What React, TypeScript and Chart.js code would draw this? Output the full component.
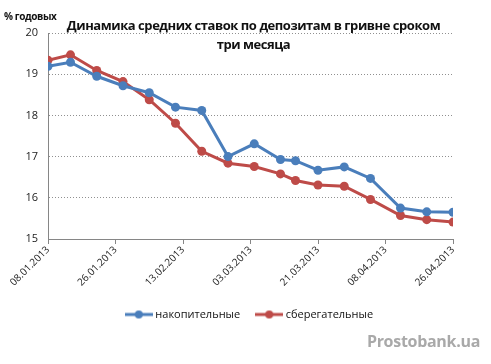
import React, { useEffect, useRef } from "react";
import { Chart, registerables } from "chart.js";

Chart.register(...registerables);

const dates = [
  "08.01.2013", "14.01.2013", "21.01.2013", "28.01.2013", "04.02.2013", "11.02.2013",
  "18.02.2013", "25.02.2013", "04.03.2013", "11.03.2013", "15.03.2013", "21.03.2013",
  "28.03.2013", "04.04.2013", "12.04.2013", "19.04.2013", "26.04.2013",
];
const nakopitelnye = [19.19, 19.29, 18.95, 18.72, 18.55, 18.2, 18.12, 17.0, 17.31, 16.93, 16.9, 16.67, 16.75, 16.47, 15.75, 15.66, 15.65];
const sberegatelnye = [19.34, 19.47, 19.09, 18.82, 18.38, 17.81, 17.13, 16.84, 16.76, 16.58, 16.42, 16.31, 16.28, 15.96, 15.57, 15.47, 15.41];
const tickLabels = ["08.01.2013", "26.01.2013", "13.02.2013", "03.03.2013", "21.03.2013", "08.04.2013", "26.04.2013"];
const seriesNames = ["накопительные", "сберегательные"];
const yTicks = [15, 16, 17, 18, 19, 20];

const BLUE = "#4a7ebb";
const RED = "#be4b48";

function toDay(s: string) {
  const [d, m, y] = s.split(".").map(Number);
  return Date.UTC(y, m - 1, d) / 86400000;
}
const base = toDay(dates[0]);
const off = (s: string) => toDay(s) - base;

function makeIcon(color: string) {
  const c = document.createElement("canvas");
  c.width = 28;
  c.height = 10;
  const ctx = c.getContext("2d")!;
  ctx.strokeStyle = color;
  ctx.lineWidth = 3;
  ctx.beginPath();
  ctx.moveTo(0, 5);
  ctx.lineTo(28, 5);
  ctx.stroke();
  ctx.fillStyle = color;
  ctx.beginPath();
  ctx.arc(14, 5, 4, 0, Math.PI * 2);
  ctx.fill();
  return c;
}

export default function App() {
  const ref = useRef<HTMLCanvasElement>(null);
  useEffect(() => {
    const icons = [makeIcon(BLUE), makeIcon(RED)];
    const font = "'Open Sans', sans-serif";
    const chart = new Chart(ref.current!, {
      type: "line",
      data: {
        datasets: [
          {
            label: seriesNames[0],
            data: dates.map((d, i) => ({ x: off(d), y: nakopitelnye[i] })),
            borderColor: BLUE,
            backgroundColor: BLUE,
            borderWidth: 3,
            pointRadius: 4.5,
            pointBorderWidth: 0,
            pointBackgroundColor: BLUE,
          },
          {
            label: seriesNames[1],
            data: dates.map((d, i) => ({ x: off(d), y: sberegatelnye[i] })),
            borderColor: RED,
            backgroundColor: RED,
            borderWidth: 3,
            pointRadius: 4.5,
            pointBorderWidth: 0,
            pointBackgroundColor: RED,
          },
        ],
      },
      options: {
        animation: false,
        responsive: false,
        layout: { padding: { left: 10, right: 0, top: 33, bottom: 34 } },
        scales: {
          x: {
            type: "linear",
            min: 0,
            max: off(tickLabels[tickLabels.length - 1]),
            afterBuildTicks: (scale: any) => {
              scale.ticks = tickLabels.map((t) => ({ value: off(t) }));
            },
            afterFit: (scale: any) => {
              scale.height = 52;
            },
            ticks: {
              autoSkip: false,
              maxRotation: 45,
              minRotation: 45,
              padding: 0,
              color: "#222",
              font: { family: font, size: 10 },
              callback: (_v: any, i: number) => tickLabels[i],
            },
            grid: {
              drawOnChartArea: false,
              drawTicks: true,
              tickLength: 5,
              color: "#868686",
            },
            border: { color: "#868686", width: 1 },
          },
          y: {
            min: 15,
            max: 20,
            afterBuildTicks: (scale: any) => {
              scale.ticks = yTicks.map((v) => ({ value: v }));
            },
            afterFit: (scale: any) => {
              scale.width = 38;
            },
            ticks: {
              padding: 10,
              color: "#222",
              font: { family: font, size: 11 },
            },
            grid: {
              drawTicks: false,
              color: "#909090",
              lineWidth: 1,
            },
            border: { color: "#868686", width: 1, dash: [1, 2] },
          },
          yRight: {
            position: "right",
            display: true,
            min: 15,
            max: 20,
            afterFit: (scale: any) => {
              scale.width = 38;
            },
            ticks: { display: false },
            grid: { display: false, drawTicks: false },
            border: { display: false },
          },
        },
        plugins: {
          legend: {
            position: "bottom",
            labels: {
              usePointStyle: true,
              pointStyleWidth: 22,
              padding: 18,
              color: "#111",
              font: { family: font, size: 11 },
              generateLabels: (c: any) =>
                (Chart.defaults.plugins.legend.labels as any)
                  .generateLabels(c)
                  .map((l: any, i: number) => ({ ...l, pointStyle: icons[i] })),
            },
          },
          tooltip: { enabled: false },
        },
      },
    } as any);
    return () => chart.destroy();
  }, []);

  return (
    <div style={{ position: "absolute", left: 0, top: 0, width: 491, height: 364, background: "#fff", overflow: "hidden" }}>
      <canvas ref={ref} width={491} height={364} style={{ position: "absolute", left: 0, top: 0, width: 491, height: 364 }} />
      <div
        style={{
          position: "absolute", left: 4, top: 10, fontFamily: "'Open Sans', sans-serif",
          fontWeight: 700, fontSize: 10, letterSpacing: -0.4, color: "#111", lineHeight: "12px",
        }}
      >
        % годовых
      </div>
      <div
        style={{
          position: "absolute", left: 20, width: 467, top: 16, textAlign: "center",
          fontFamily: "'Open Sans', sans-serif", fontWeight: 700, fontSize: 13, letterSpacing: -0.45,
          lineHeight: "19px", color: "#111",
        }}
      >
        Динамика средних ставок по депозитам в гривне сроком
        <br />
        три месяца
      </div>
      <div
        style={{
          position: "absolute", right: 11, top: 331, fontFamily: "'Open Sans', sans-serif",
          fontWeight: 700, fontSize: 16, letterSpacing: -0.3, color: "#a9a9a9", lineHeight: "20px",
        }}
      >
        Prostobank.ua
      </div>
    </div>
  );
}
